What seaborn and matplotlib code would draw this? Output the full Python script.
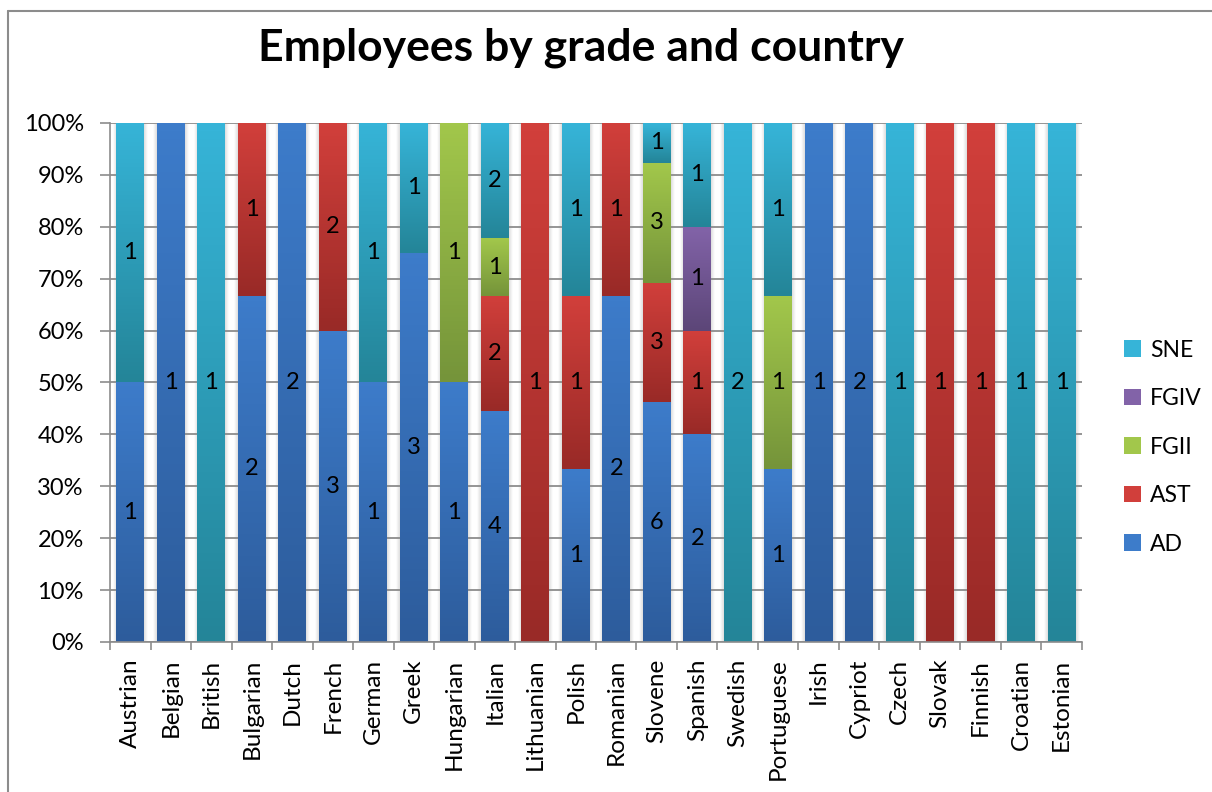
## Employees by grade and country
## 100% stacked bars, Excel look

# import libraries
import numpy as np
import pandas as pd
import seaborn as sns
import matplotlib.pyplot as plt
from matplotlib.colors import LinearSegmentedColormap
from matplotlib.lines import Line2D
from matplotlib.patches import Patch

# data
countries = ['Austrian', 'Belgian', 'British', 'Bulgarian', 'Dutch', 'French',
             'German', 'Greek', 'Hungarian', 'Italian', 'Lithuanian', 'Polish',
             'Romanian', 'Slovene', 'Spanish', 'Swedish', 'Portuguese', 'Irish',
             'Cypriot', 'Czech', 'Slovak', 'Finnish', 'Croatian', 'Estonian']
ad   = [1, 1, 0, 2, 2, 3, 1, 3, 1, 4, 0, 1, 2, 6, 2, 0, 1, 1, 2, 0, 0, 0, 0, 0]
ast  = [0, 0, 0, 1, 0, 2, 0, 0, 0, 2, 1, 1, 1, 3, 1, 0, 0, 0, 0, 0, 1, 1, 0, 0]
fgii = [0, 0, 0, 0, 0, 0, 0, 0, 1, 1, 0, 0, 0, 3, 0, 0, 1, 0, 0, 0, 0, 0, 0, 0]
fgiv = [0, 0, 0, 0, 0, 0, 0, 0, 0, 0, 0, 0, 0, 0, 1, 0, 0, 0, 0, 0, 0, 0, 0, 0]
sne  = [1, 0, 1, 0, 0, 0, 1, 1, 0, 2, 0, 1, 0, 1, 1, 2, 1, 0, 0, 1, 0, 0, 1, 1]

grades = ['AD', 'AST', 'FGII', 'FGIV', 'SNE']
# (light top, dark bottom) per grade
colors = {
    'AD':   ('#3d7cca', '#2d5c9c'),
    'AST':  ('#d13f3b', '#992a27'),
    'FGII': ('#a2c74b', '#75943a'),
    'FGIV': ('#8263a8', '#5c4678'),
    'SNE':  ('#36b4d8', '#248598'),
}

df = pd.DataFrame({'country': countries, 'AD': ad, 'AST': ast,
                   'FGII': fgii, 'FGIV': fgiv, 'SNE': sne})
total = df[grades].sum(axis=1)
share = df[grades].div(total, axis=0) * 100
cum = share.cumsum(axis=1)

sns.set_theme(style='white')
plt.rcParams['font.family'] = ['Lato', 'DejaVu Sans']
plt.rcParams['text.color'] = 'black'

fig = plt.figure(figsize=(12.12, 7.92), dpi=100)
ax = fig.add_axes([0.0908, 0.1894, 0.8019, 0.6553])

bar_w = 0.69
# stacked look: draw cumulative layers from the top down
for g in reversed(grades):
    plot_df = pd.DataFrame({'country': countries, 'val': cum[g]})
    sns.barplot(data=plot_df, x='country', y='val', color=colors[g][0],
                width=bar_w, saturation=1, ax=ax, zorder=2, linewidth=0)

# gradient per segment + soft shadow + labels
for i in range(len(countries)):
    x0, x1 = i - bar_w / 2, i + bar_w / 2
    # shadow
    sh = np.linspace(0.78, 1.0, 20).reshape(1, -1)
    ax.imshow(sh, extent=[x1, x1 + 0.09, 0, 100], cmap='gray', vmin=0, vmax=1,
              aspect='auto', zorder=1.5, alpha=0.6)
    ax.imshow(sh[:, ::-1], extent=[x0 - 0.09, x0, 0, 100], cmap='gray', vmin=0,
              vmax=1, aspect='auto', zorder=1.5, alpha=0.6)
    bottom = 0
    for g in grades:
        h = share[g].iloc[i]
        if h > 0:
            cmap = LinearSegmentedColormap.from_list(g, [colors[g][1], colors[g][0]])
            grad = np.linspace(0, 1, 64).reshape(-1, 1)
            ax.imshow(grad, extent=[x0, x1, bottom, bottom + h], origin='lower',
                      cmap=cmap, aspect='auto', zorder=3)
            ax.text(i, bottom + h / 2, str(df[g].iloc[i]), ha='center',
                    va='center', fontsize=17, color='black', zorder=4)
        bottom += h

ax.set_xlim(-0.5, len(countries) - 0.5)
ax.set_ylim(0, 100)
ax.set_yticks(range(0, 101, 10))
ax.set_yticklabels([f'{v}%' for v in range(0, 101, 10)], fontsize=17,
                   color='black')
ax.set_xticks(range(len(countries)))
ax.set_xticklabels(countries, rotation=90, fontsize=17.5, color='black')
ax.set_xticks(np.arange(-0.5, len(countries), 1), minor=True)
ax.tick_params(axis='x', which='major', length=0, pad=12)
ax.tick_params(axis='x', which='minor', length=6, color='#8c8c8c', width=1.2,
               bottom=True)
ax.tick_params(axis='y', length=7, color='#8c8c8c', width=1.2, left=True, pad=12)
ax.set_xlabel('')
ax.set_ylabel('')
ax.set_axisbelow(False)
ax.yaxis.grid(True, color='#8c8c8c', linewidth=1.3)
for s in ['top', 'right']:
    ax.spines[s].set_visible(False)
for s in ['left', 'bottom']:
    ax.spines[s].set_color('#8c8c8c')
    ax.spines[s].set_linewidth(1.2)
    ax.spines[s].set_zorder(5)

# legend
handles = [Patch(facecolor=colors[g][0], edgecolor='none', label=g)
           for g in reversed(grades)]
fig.legend(handles=handles, loc='center left', bbox_to_anchor=(0.91, 0.4356),
           frameon=False, fontsize=16.5, handlelength=0.75, handleheight=0.75,
           labelspacing=1.2, handletextpad=0.4)

fig.text(0.479, 0.94, 'Employees by grade and country', ha='center',
         va='center', fontsize=32, fontweight='bold', color='black')

# chart border (left and top only visible)
fig.add_artist(Line2D([0.0068, 0.0068], [0, 0.9865], color='#8c8c8c', lw=1.5,
                      transform=fig.transFigure))
fig.add_artist(Line2D([0.0068, 1], [0.9865, 0.9865], color='#8c8c8c', lw=1.5,
                      transform=fig.transFigure))

fig.savefig('out.png', dpi=100)
